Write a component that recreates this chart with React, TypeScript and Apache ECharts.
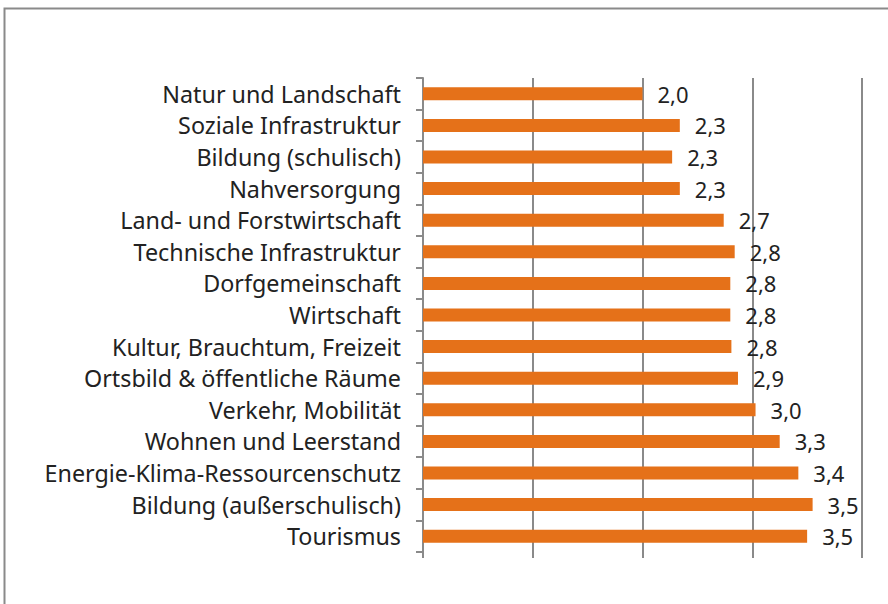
import React, { useEffect, useRef } from "react";
import * as echarts from "echarts";

const categories = [
  "Natur und Landschaft",
  "Soziale Infrastruktur",
  "Bildung (schulisch)",
  "Nahversorgung",
  "Land- und Forstwirtschaft",
  "Technische Infrastruktur",
  "Dorfgemeinschaft",
  "Wirtschaft",
  "Kultur, Brauchtum, Freizeit",
  "Ortsbild & öffentliche Räume",
  "Verkehr, Mobilität",
  "Wohnen und Leerstand",
  "Energie-Klima-Ressourcenschutz",
  "Bildung (außerschulisch)",
  "Tourismus",
];

const values = [2.0, 2.34, 2.27, 2.34, 2.74, 2.84, 2.8, 2.8, 2.81, 2.87, 3.03, 3.25, 3.42, 3.55, 3.5];

const axisMin = 0;
const axisMax = 4;
const axisInterval = 1;

export default function App() {
  const ref = useRef<HTMLDivElement>(null);
  useEffect(() => {
    document.body.style.margin = "0";
    if (!ref.current) return;
    const chart = echarts.init(ref.current, undefined, { renderer: "svg" });
    const font = "'Noto Sans', sans-serif";
    chart.setOption({
      animation: false,
      backgroundColor: "#ffffff",
      graphic: [
        {
          type: "rect",
          shape: { x: 4.5, y: 8.5, width: 900, height: 700 },
          style: { fill: "none", stroke: "#8a8a8a", lineWidth: 2 },
        },
      ],
      grid: { left: 423, right: 26, top: 78, bottom: 52, containLabel: false },
      xAxis: {
        type: "value",
        min: axisMin,
        max: axisMax,
        interval: axisInterval,
        axisLabel: { show: false },
        axisLine: { show: false },
        axisTick: { show: true, length: 6, lineStyle: { color: "#8a8a8a", width: 2 } },
        splitLine: { show: true, lineStyle: { color: "#8a8a8a", width: 2 } },
      },
      yAxis: {
        type: "category",
        data: categories,
        inverse: true,
        axisLine: { show: true, lineStyle: { color: "#8a8a8a", width: 2 } },
        axisTick: { show: true, length: 7, lineStyle: { color: "#8a8a8a", width: 2 } },
        axisLabel: {
          color: "#222222",
          fontFamily: font,
          fontSize: 23.3,
          margin: 22,
        },
      },
      series: [
        {
          type: "bar",
          data: values,
          barWidth: 13,
          itemStyle: { color: "#E57119" },
          label: {
            show: true,
            position: "right",
            distance: 15,
            color: "#222222",
            fontFamily: font,
            fontSize: 22,
            formatter: (p: any) => Number(p.value).toFixed(1).replace(".", ","),
          },
        },
      ],
    });
    return () => chart.dispose();
  }, []);
  return <div ref={ref} style={{ width: 888, height: 604 }} />;
}
